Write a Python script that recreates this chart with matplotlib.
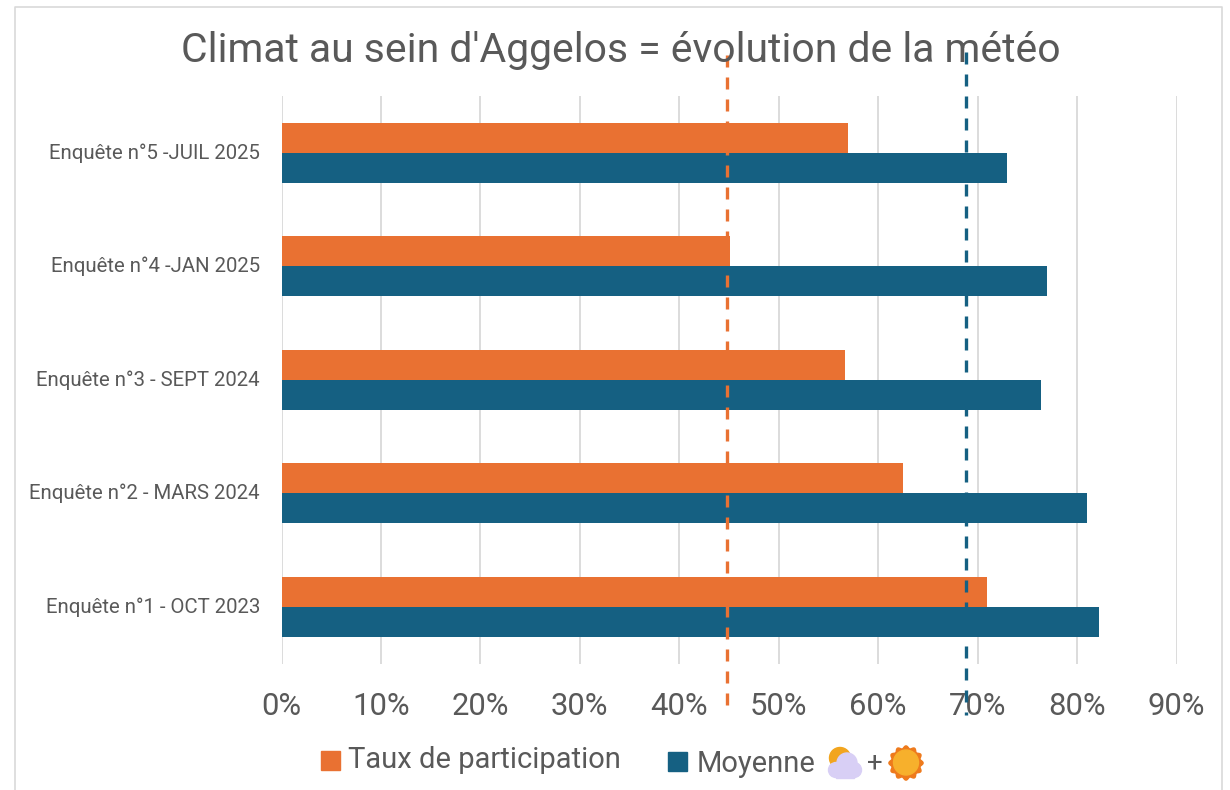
import matplotlib
matplotlib.use("Agg")
import matplotlib.pyplot as plt
from matplotlib.patches import Circle, Rectangle, Polygon
import numpy as np

categories = ["Enquête n°1 - OCT 2023", "Enquête n°2 - MARS 2024", "Enquête n°3 - SEPT 2024",
              "Enquête n°4 -JAN 2025", "Enquête n°5 -JUIL 2025"]
participation = [70.9, 62.5, 56.7, 45.1, 57.0]
moyenne = [82.2, 81.0, 76.4, 77.0, 73.0]
avg_participation = 44.8
avg_moyenne = 68.8
ticks = list(range(0, 100, 10))
title = "Climat au sein d'Aggelos = évolution de la météo"
ORANGE = "#E97132"
BLUE = "#156082"
GREY = "#595959"

plt.rcParams["font.family"] = ["Roboto", "DejaVu Sans"]
W, H = 1230, 790
fig = plt.figure(figsize=(W / 100, H / 100), dpi=100, facecolor="white")
L, R, T, B = 281.5, 1176.5, 96, 663.5
ax = fig.add_axes([L / W, 1 - B / H, (R - L) / W, (B - T) / H])
y = np.arange(len(categories))
h = 0.264
ax.barh(y + h / 2, participation, height=h, color=ORANGE, zorder=3)
ax.barh(y - h / 2, moyenne, height=h, color=BLUE, zorder=3)
ax.set_xlim(0, 90)
ax.set_ylim(-0.5, 4.5)
ax.set_xticks(ticks)
ax.set_xticklabels([f"{t}%" for t in ticks], fontsize=22.3, color=GREY)
ax.set_yticks(y)
ax.set_yticklabels(categories, fontsize=14.7, color=GREY, va="center")
ax.tick_params(axis="both", length=0)
ax.tick_params(axis="x", pad=20.5)
ax.tick_params(axis="y", pad=15.5)
ax.grid(axis="x", color="#D9D9D9", lw=1.3, zorder=0)
for s in ax.spines.values():
    s.set_visible(False)
dash = (0, (3.6, 3))
ax.axvline(avg_participation, ymin=1.072, ymax=-0.09, color=ORANGE, ls=dash, lw=2.4, clip_on=False, zorder=5)
ax.axvline(avg_moyenne, ymin=1.077, ymax=-0.09, color=BLUE, ls=dash, lw=2.4, clip_on=False, zorder=5)

# pixel-space overlay for frame, title, legend
ov = fig.add_axes([0, 0, 1, 1], facecolor="none")
ov.set_xlim(0, W)
ov.set_ylim(H, 0)
ov.axis("off")
ov.plot([15, 15, 1222, 1222], [790, 6.5, 6.5, 790], color="#D9D9D9", lw=1.2)
ov.text(620.5, 50, title, ha="center", va="center", fontsize=29.4, color=GREY)
ov.add_patch(Rectangle((321, 751), 19, 19, color=ORANGE))
ov.text(348, 760, "Taux de participation", ha="left", va="center", fontsize=21, color=GREY)
ov.add_patch(Rectangle((668, 752), 19, 19, color=BLUE))
ov.text(697, 764, "Moyenne", ha="left", va="center", fontsize=21, color=GREY)
ov.text(875, 763, "+", ha="center", va="center", fontsize=20, color=GREY)
# cloud + sun icon
ov.add_patch(Circle((840, 758), 10.5, color="#F2A51E", zorder=3))
for cx, cy, r in [(836, 770, 7.5), (847, 763, 10), (854, 770, 7.5)]:
    ov.add_patch(Circle((cx, cy), r, color="#D8CFF5", zorder=4))
ov.add_patch(Rectangle((836, 768), 18, 9.5, color="#D8CFF5", zorder=4))
# sun icon
ang = np.linspace(0, 2 * np.pi, 180)
rad = 15.8 + 1.3 * np.cos(12 * ang)
ov.add_patch(Polygon(np.c_[906 + rad * np.cos(ang), 763 + rad * np.sin(ang)], color="#EE7A1C", zorder=3))
ov.add_patch(Circle((906, 762.5), 12.5, color="#F7B02C", zorder=4))

fig.savefig("out.png", dpi=100)
